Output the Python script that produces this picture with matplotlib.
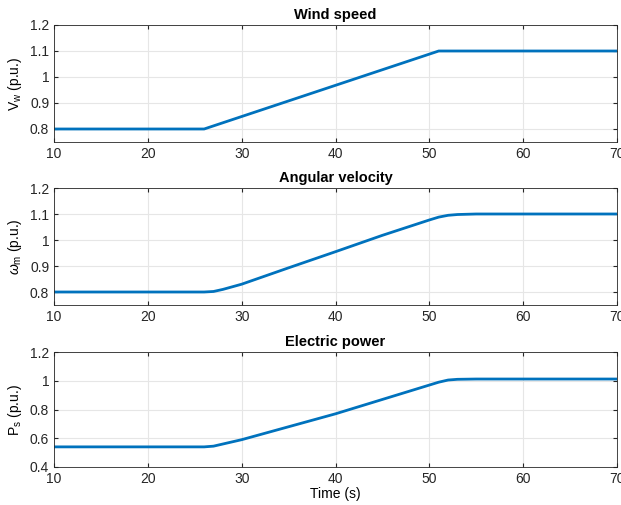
import numpy as np
import matplotlib

matplotlib.use("Agg")
import matplotlib.pyplot as plt

# Valores
t_vento = [10, 26, 51, 70]
v_vento = [0.8, 0.8, 1.1, 1.1]

t_omega = [10, 26, 27, 28, 30, 35, 40, 45, 50, 51, 52, 53, 55, 70]
v_omega = [0.8, 0.8, 0.802, 0.81, 0.83, 0.893, 0.955, 1.018, 1.077, 1.088, 1.095, 1.098, 1.1, 1.1]

t_pot = [10, 26, 27, 28, 30, 35, 40, 45, 50, 51, 52, 53, 55, 70]
v_pot = [0.54, 0.54, 0.545, 0.56, 0.59, 0.68, 0.77, 0.87, 0.97, 0.99, 1.005, 1.01, 1.012, 1.012]

AZUL = "#0072BD"

plt.rcParams.update({
    "font.family": ["Liberation Sans", "DejaVu Sans"],
    "font.size": 10,
    "mathtext.fontset": "custom",
    "mathtext.rm": "Liberation Sans",
    "mathtext.it": "Liberation Sans:italic",
    "xtick.direction": "in",
    "ytick.direction": "in",
    "xtick.top": True,
    "ytick.right": True,
    "axes.edgecolor": "#262626",
    "xtick.color": "#262626",
    "ytick.color": "#262626",
    "xtick.major.size": 3,
    "ytick.major.size": 3,
})

fig = plt.figure(figsize=(6.21, 5.05), dpi=100)
W, H = 621, 505
left, right = 54, 617
boxes = [(25, 142), (188, 305), (352, 467)]

paineis = [
    (t_vento, v_vento, "Wind speed", r"$\mathrm{V_w}$ (p.u.)", (0.75, 1.2), [0.8, 0.9, 1, 1.1, 1.2]),
    (t_omega, v_omega, "Angular velocity", r"$\omega_\mathrm{m}$ (p.u.)", (0.75, 1.2), [0.8, 0.9, 1, 1.1, 1.2]),
    (t_pot, v_pot, "Electric power", r"$\mathrm{P_s}$ (p.u.)", (0.4, 1.2), [0.4, 0.6, 0.8, 1, 1.2]),
]

for (top, bot), (t, v, titulo, ylab, ylim, yt) in zip(boxes, paineis):
    ax = fig.add_axes([left / W, 1 - bot / H, (right - left) / W, (bot - top) / H])
    ax.plot(t, v, color=AZUL, lw=2)
    ax.set_xlim(10, 70)
    ax.set_ylim(*ylim)
    ax.set_yticks(yt)
    ax.set_yticklabels([f"{y:g}" for y in yt])
    ax.set_xticks(range(10, 71, 10))
    ax.grid(True, color="#e6e6e6", lw=0.8)
    ax.set_axisbelow(True)
    ax.set_title(titulo, fontweight="bold", fontsize=10.5, pad=4)
    ax.set_ylabel(ylab, labelpad=4)
    for s in ax.spines.values():
        s.set_linewidth(0.6)

ax.set_xlabel("Time (s)", labelpad=1)

fig.savefig("out.png", dpi=100)
